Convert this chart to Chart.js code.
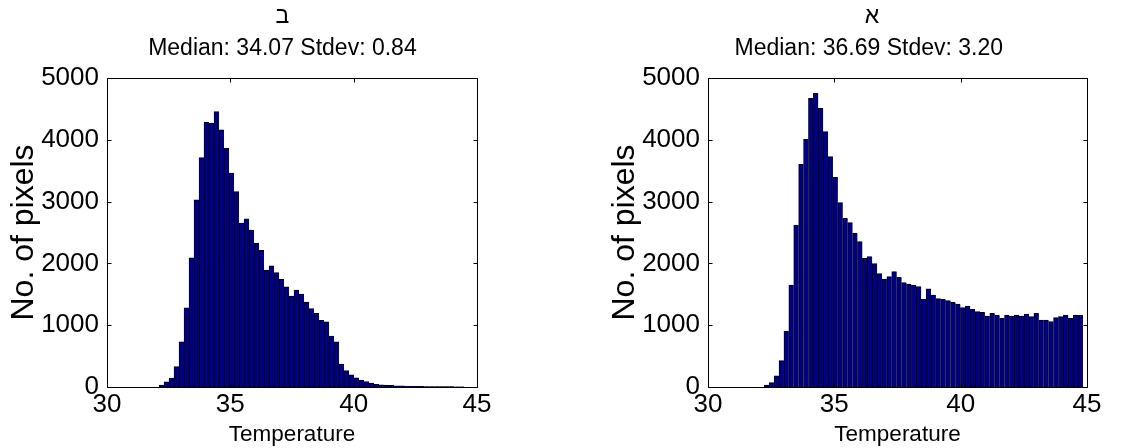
<!DOCTYPE html>
<html>
<head>
<meta charset="utf-8">
<title>Temperature histograms</title>
<script src="https://cdn.jsdelivr.net/npm/chart.js@4.4.1/dist/chart.umd.min.js"></script>
<style>
  html, body { margin: 0; padding: 0; background: #fff; }
  #wrap { position: relative; width: 1121px; height: 448px; overflow: hidden; }
  canvas { position: absolute; top: 0; }
</style>
</head>
<body>
<div id="wrap">
  <canvas id="leftChart" width="560" height="448" style="left:0"></canvas>
  <canvas id="rightChart" width="561" height="448" style="left:560px"></canvas>
</div>
<script>
// values (histogram of pixel temperatures)
const sp = n => "\u00a0".repeat(n);   // trailing spaces nudge the centred titles left

const leftTitle = ["ב" + sp(3), "Median: 34.07 Stdev: 0.84" + sp(3)];
const leftBinStart = 32.11;
const leftBinWidth = 0.2027;
const leftCounts = [30, 85, 145, 330, 730, 1280, 2090, 3030, 3710, 4280, 4270, 4455,
  4160, 3860, 3460, 3160, 2650, 2720, 2540, 2330, 2210, 1890, 1960, 1850, 1740, 1620,
  1470, 1570, 1505, 1375, 1270, 1190, 1080, 1055, 825, 730, 370, 265, 195, 150, 113,
  86, 65, 45, 35, 30, 25, 20, 18, 15, 12, 10, 10, 8, 8, 6, 5, 5, 5, 4, 4];

const rightTitle = ["א" + sp(8), "Median: 36.69 Stdev: 3.20" + sp(9)];
const rightBinStart = 32.23;
const rightBinWidth = 0.194;
const rightCounts = [32, 70, 180, 426, 906, 1650, 2621, 3603, 4008, 4671, 4752, 4509,
  4131, 3726, 3391, 2982, 2729, 2658, 2487, 2351, 2082, 2108, 1995, 1835, 1747, 1785,
  1866, 1775, 1688, 1667, 1650, 1623, 1419, 1590, 1489, 1429, 1419, 1397, 1370, 1343,
  1284, 1311, 1257, 1219, 1208, 1149, 1192, 1165, 1111, 1165, 1149, 1165, 1149, 1181,
  1138, 1192, 1084, 1084, 1057, 1122, 1138, 1165, 1111, 1165, 1160];

const xTicks = [30, 35, 40, 45];
const yTicks = [0, 1000, 2000, 3000, 4000, 5000];
const xLabel = "Temperature";
const yLabel = "No. of pixels";

const FONT = "'Liberation Sans', Arial, Helvetica, sans-serif";
const tickFont = { family: FONT, size: 26, weight: "normal" };

// matlab style box with inward ticks
const matlabAxes = {
    id: "matlabAxes",
    afterDatasetsDraw(chart) {
        const { ctx, chartArea: a, scales: { x, y } } = chart;
        const L = Math.round(a.left) + 0.5, R = Math.round(a.right) + 0.5;
        const T = Math.round(a.top) + 0.5, B = Math.round(a.bottom) + 0.5;
        ctx.save();
        ctx.strokeStyle = "#000";
        ctx.lineWidth = 1;
        ctx.beginPath();
        ctx.rect(L, T, R - L, B - T);
        x.ticks.forEach(t => {
            const px = Math.round(x.getPixelForValue(t.value)) + 0.5;
            ctx.moveTo(px, T); ctx.lineTo(px, T + 4);
            ctx.moveTo(px, B); ctx.lineTo(px, B - 4);
        });
        y.ticks.forEach(t => {
            const py = Math.round(y.getPixelForValue(t.value)) + 0.5;
            ctx.moveTo(L, py); ctx.lineTo(L + 4, py);
            ctx.moveTo(R, py); ctx.lineTo(R - 4, py);
        });
        ctx.stroke();
        ctx.restore();
    }
};

function makeHist(id, title, binStart, binWidth, counts, yWidth, rightPad, yTitlePad) {
    const bars = counts.map((c, i) => ({ x: binStart + binWidth * (i + 0.5), y: c }));
    return new Chart(document.getElementById(id), {
        type: "bar",
        data: {
            datasets: [{
                data: bars,
                backgroundColor: "#000080",
                borderColor: "#000000",
                borderWidth: { left: 1, top: 1, right: 0, bottom: 0 },
                borderSkipped: false,
                barPercentage: 1,
                categoryPercentage: 1
            }]
        },
        options: {
            responsive: false,
            animation: false,
            layout: { padding: { left: 0, right: rightPad, top: 0, bottom: 0 } },
            plugins: {
                legend: { display: false },
                tooltip: { enabled: false },
                title: {
                    display: true, text: title, color: "#000", fullSize: false,
                    font: { family: FONT, size: 23, weight: "normal", lineHeight: 1.39 },
                    padding: { top: 1, bottom: 13 }
                }
            },
            scales: {
                x: {
                    type: "linear", min: 30, max: 45, offset: false,
                    afterBuildTicks: s => { s.ticks = xTicks.map(v => ({ value: v })); },
                    afterFit: s => { s.height = 61; },
                    grid: { display: false, drawTicks: false },
                    border: { display: false },
                    ticks: { color: "#000", font: tickFont, padding: 2, maxRotation: 0, autoSkip: false },
                    title: {
                        display: true, text: xLabel, color: "#000",
                        font: { family: FONT, size: 22.5, weight: "normal" },
                        padding: { top: 0, bottom: 0 }
                    }
                },
                y: {
                    min: 0, max: 5000,
                    afterBuildTicks: s => { s.ticks = yTicks.map(v => ({ value: v })); },
                    afterFit: s => { s.width = yWidth; },
                    grid: { display: false, drawTicks: false },
                    border: { display: false },
                    ticks: { color: "#000", font: tickFont, padding: 8, callback: v => String(v) },
                    title: {
                        display: true, text: yLabel, color: "#000",
                        font: { family: FONT, size: 32, weight: "normal" },
                        padding: { top: yTitlePad, bottom: 0 }
                    }
                }
            }
        },
        plugins: [matlabAxes]
    });
}

makeHist("leftChart", leftTitle, leftBinStart, leftBinWidth, leftCounts, 107, 83, 5);
makeHist("rightChart", rightTitle, rightBinStart, rightBinWidth, rightCounts, 148, 34, 46);
</script>
</body>
</html>
